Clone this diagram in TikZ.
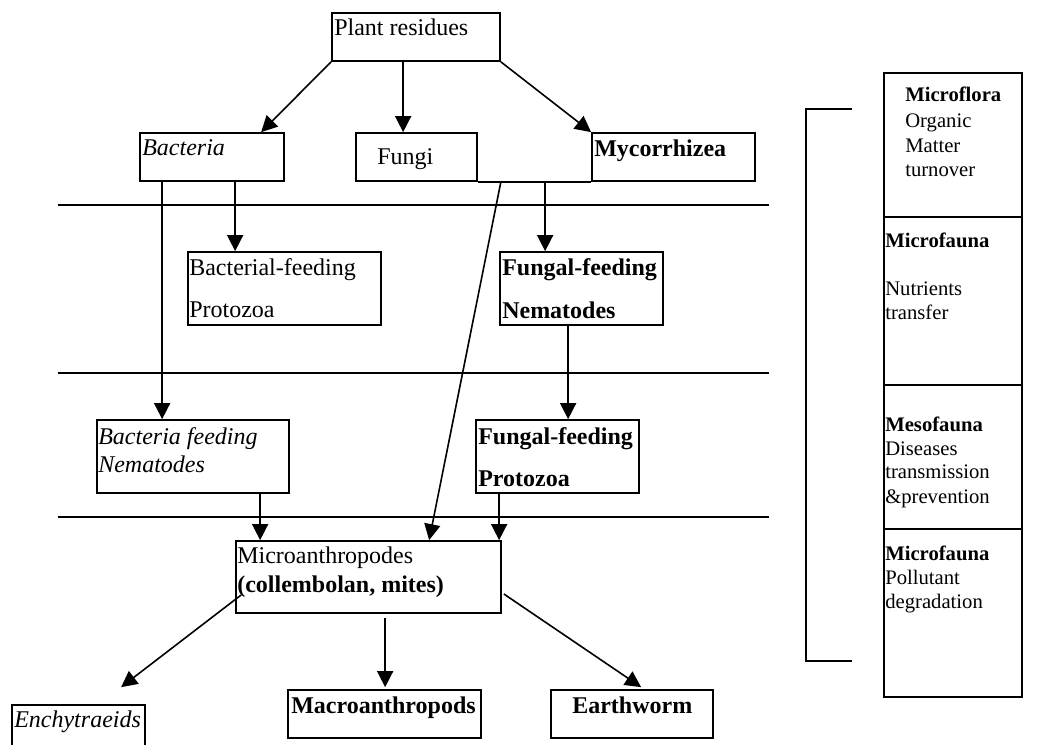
\documentclass[tikz,border=0pt]{standalone}
\usepackage{fontspec}
\setmainfont{Liberation Serif}
\usetikzlibrary{arrows.meta,calc}
\tikzset{
  box/.style={draw,line width=1.3pt,inner sep=0pt,minimum height=36pt},
  lbl/.style={anchor=base west,inner sep=0pt,font=\fontsize{18}{21.6}\selectfont},
  rlbl/.style={anchor=base west,inner sep=0pt,font=\fontsize{15.5}{18}\selectfont},
  arr/.style={line width=1.2pt,-{Triangle[length=12pt,width=12pt]}},
  ln/.style={line width=1.3pt}
}
\begin{document}
\begin{tikzpicture}[x=0.75pt,y=-0.75pt]
\useasboundingbox (0,0) rectangle (1042,745);
\clip (0,0) rectangle (1042,745);
% boxes
\node[box,minimum width=126pt] (plant) at (416,37) {};
\node[box,minimum width=108pt] (bact) at (212,157) {};
\node[box,minimum width=90.75pt] (fungi) at (416.5,157) {};
\node[box,minimum width=122.25pt] (myc) at (673.5,157) {};
\node[box,minimum width=144.75pt,minimum height=54.75pt] (bfp) at (284.5,288.5) {};
\node[box,minimum width=122.25pt,minimum height=54.75pt] (ffn) at (581.5,288.5) {};
\node[box,minimum width=144pt,minimum height=54.75pt] (bfn) at (193,456.5) {};
\node[box,minimum width=122.25pt,minimum height=54.75pt] (ffp) at (557.5,456.5) {};
\node[box,minimum width=198.75pt,minimum height=54pt] (micro) at (368.5,577) {};
\node[box,minimum width=99.75pt,minimum height=41.25pt] (ench) at (78.5,732.5) {};
\node[box,minimum width=144.75pt] (macro) at (384.5,714) {};
\node[box,minimum width=121.5pt] (earth) at (632,714) {};
\node[box,minimum width=103.5pt,minimum height=108pt] (r1) at (953,145) {};
\node[box,minimum width=103.5pt,minimum height=126pt] (r2) at (953,301) {};
\node[box,minimum width=103.5pt,minimum height=108pt] (r3) at (953,457) {};
\node[box,minimum width=103.5pt,minimum height=126pt] (r4) at (953,613) {};
% texts
\node[lbl] (tplant) at (334,36) {Plant residues};
\node[lbl] (tbact) at (142,156) {\itshape Bacteria};
\node[lbl] (tfungi) at (377,165) {Fungi};
\node[lbl] (tmyc) at (594,157) {\bfseries Mycorrhizea};
\node[lbl] (tbfp1) at (189,276) {Bacterial-feeding};
\node[lbl] (tbfp2) at (189,317) {Protozoa};
\node[lbl] (tffn1) at (502,276) {\bfseries Fungal-feeding};
\node[lbl] (tffn2) at (502,318) {\bfseries Nematodes};
\node[lbl] (tbfn1) at (98,444) {\itshape Bacteria feeding};
\node[lbl] (tbfn2) at (98,472) {\itshape Nematodes};
\node[lbl] (tffp1) at (478,444) {\bfseries Fungal-feeding};
\node[lbl] (tffp2) at (478,486) {\bfseries Protozoa};
\node[lbl] (tmic1) at (237,563) {Microanthropodes};
\node[lbl] (tmic2) at (237,592) {\bfseries (collembolan, mites)};
\node[lbl] (tench) at (14,727) {\itshape Enchytraeids};
\node[lbl] (tmacro) at (291,713) {\bfseries Macroanthropods};
\node[lbl] (tearth) at (572,713) {\bfseries Earthworm};
% right column texts
\node[rlbl] (a1) at (905,102) {\bfseries Microflora};
\node[rlbl] (a2) at (905,128) {Organic};
\node[rlbl] (a3) at (905,153) {Matter};
\node[rlbl] (a4) at (905,177) {turnover};
\node[rlbl] (b1) at (885,248) {\bfseries Microfauna};
\node[rlbl] (b2) at (885,296) {Nutrients};
\node[rlbl] (b3) at (885,320) {transfer};
\node[rlbl] (c1) at (885,431) {\bfseries Mesofauna};
\node[rlbl] (c2) at (885,455) {Diseases};
\node[rlbl] (c3) at (885,478) {transmission};
\node[rlbl] (c4) at (885,503) {\&prevention};
\node[rlbl] (d1) at (885,560) {\bfseries Microfauna};
\node[rlbl] (d2) at (885,584) {Pollutant};
\node[rlbl] (d3) at (885,608) {degradation};
% separator lines
\draw[ln] (58,205) -- (769,205);
\draw[ln] (58,373) -- (769,373);
\draw[ln] (58,517) -- (769,517);
% bracket
\draw[ln] (852,109) -- (806,109) -- (806,661) -- (852,661);
% fungi - mycorrhizea base line
\draw[ln] (fungi.south east) -- (myc.south west);
% arrows
\draw[arr] (plant.south west) -- ($(bact.north west)+(122,0)$);
\draw[arr] ($(plant.south west)+(72,0)$) -- ($(fungi.north west)+(48,0)$);
\draw[arr] (plant.south east) -- (myc.north west);
\draw[arr] ($(bact.south west)+(23,0)$) -- ($(bfn.north west)+(66,0)$);
\draw[arr] ($(bact.south west)+(96,0)$) -- ($(bfp.north west)+(48,0)$);
\draw[arr] ($(fungi.south east)+(23,0)$) -- ($(micro.north west)+(194,0)$);
\draw[arr] ($(myc.south west)+(-46,0)$) -- ($(ffn.north west)+(46,0)$);
\draw[arr] ($(ffn.south west)+(69,0)$) -- ($(ffp.north west)+(93,0)$);
\draw[arr] ($(bfn.south west)+(164,0)$) -- ($(micro.north west)+(25,0)$);
\draw[arr] ($(ffp.south west)+(24,0)$) -- ($(micro.north west)+(264,0)$);
\draw[arr] ($(micro.west)+(6,18)$) -- ($(ench.north west)+(110,-17)$);
\draw[arr] ($(micro.south west)+(150,4)$) -- ($(macro.north west)+(98,-2)$);
\draw[arr] ($(micro.east)+(2,17)$) -- ($(earth.north west)+(91,-2)$);
\end{tikzpicture}
\end{document}
